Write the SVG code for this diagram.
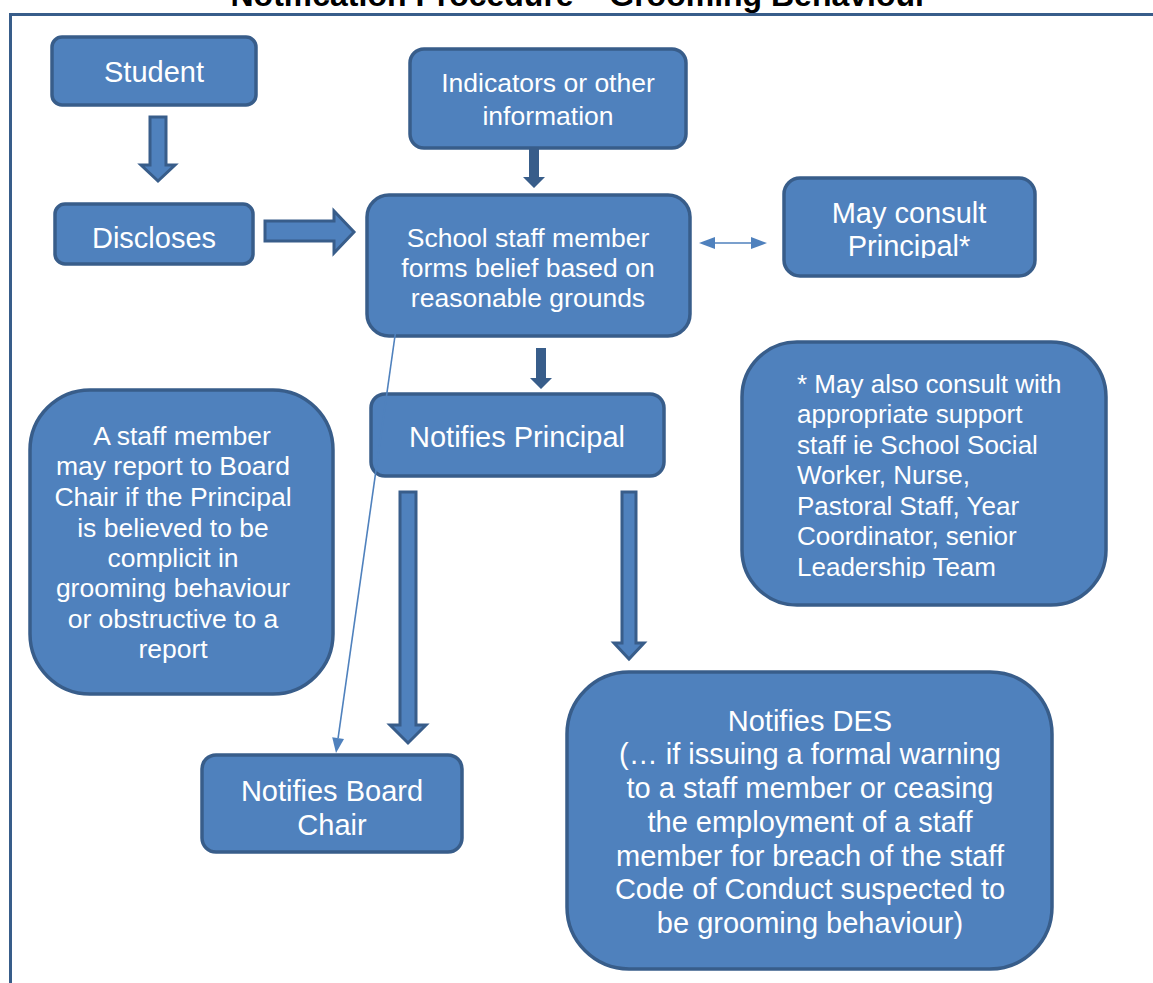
<svg xmlns="http://www.w3.org/2000/svg" width="1153" height="983" viewBox="0 0 1153 983">
<style>
.box{fill:#4F81BD;stroke:#385D8A;stroke-width:3.5}
.blk{fill:#4F81BD;stroke:#385D8A;stroke-width:3;stroke-linejoin:miter}
.solid{fill:#385D8A}
.thin{stroke:#4F81BD;stroke-width:1.6;fill:none}
.tip{fill:#4F81BD}
text{font-family:"Liberation Sans",Arial,sans-serif;fill:#FFFFFF}
.l{font-size:29px;text-anchor:middle}
.m{font-size:26.5px;text-anchor:middle}
.ml{font-size:26px}
.title{font-size:32px;font-weight:bold;fill:#000000;text-anchor:middle}
</style>
<defs>
<clipPath id="clipAlso"><rect x="742" y="342" width="366" height="236"/></clipPath>
<clipPath id="clipConsult"><rect x="784" y="178" width="252" height="80"/></clipPath>
</defs>
<rect x="0" y="0" width="1153" height="983" fill="#FFFFFF"/>
<text class="title" x="579" y="6">Notification Procedure – Grooming Behaviour</text>
<path d="M10.5 985 L10.5 14.5 L1155 14.5" fill="none" stroke="#385D8A" stroke-width="3"/>

<g id="student"><rect class="box" x="52" y="37" width="204" height="68" rx="10"/><text class="l" x="154" y="82">Student</text></g>
<g id="indicators"><rect class="box" x="410" y="49" width="276" height="99" rx="14"/><text class="m" x="548" y="92">Indicators or other</text><text class="m" x="548" y="125">information</text></g>
<g id="discloses"><rect class="box" x="55" y="204" width="198" height="60" rx="10"/><text class="l" x="154" y="248">Discloses</text></g>
<g id="staff-belief"><rect class="box" x="367" y="195" width="323" height="141" rx="22"/><text class="m" x="528" y="247">School staff member</text><text class="m" x="528" y="277">forms belief based on</text><text class="m" x="528" y="307">reasonable grounds</text></g>
<g id="consult"><rect class="box" x="784" y="178" width="251" height="98" rx="16"/><g clip-path="url(#clipConsult)"><text class="l" x="909" y="223">May consult</text><text class="l" x="909" y="256">Principal*</text></g></g>
<g id="notifies-principal"><rect class="box" x="371" y="394" width="293" height="82" rx="14"/><text class="l" x="517" y="447">Notifies Principal</text></g>
<g id="board-report-note"><rect class="box" x="30" y="390" width="303" height="304" rx="60"/>
<text class="m" x="182" y="445">A staff member</text>
<text class="m" x="173" y="475">may report to Board</text>
<text class="m" x="173" y="506">Chair if the Principal</text>
<text class="m" x="173" y="537">is believed to be</text>
<text class="m" x="173" y="567">complicit in</text>
<text class="m" x="173" y="597">grooming behaviour</text>
<text class="m" x="173" y="628">or obstructive to a</text>
<text class="m" x="173" y="658">report</text></g>
<g id="support-note"><rect class="box" x="742" y="342" width="364" height="263" rx="55"/><g clip-path="url(#clipAlso)">
<text class="ml" x="797" y="393">* May also consult with</text>
<text class="ml" x="797" y="423">appropriate support</text>
<text class="ml" x="797" y="454">staff ie School Social</text>
<text class="ml" x="797" y="484">Worker, Nurse,</text>
<text class="ml" x="797" y="515">Pastoral Staff, Year</text>
<text class="ml" x="797" y="545">Coordinator, senior</text>
<text class="ml" x="797" y="576">Leadership Team</text></g></g>
<g id="board-chair"><rect class="box" x="202" y="755" width="260" height="97" rx="14"/><text class="l" x="332" y="801">Notifies Board</text><text class="l" x="332" y="835">Chair</text></g>
<g id="des"><rect class="box" x="567" y="672" width="485" height="297" rx="62"/>
<text class="l" x="810" y="731">Notifies DES</text>
<text class="l" x="810" y="764">(… if issuing a formal warning</text>
<text class="l" x="810" y="798">to a staff member or ceasing</text>
<text class="l" x="810" y="832">the employment of a staff</text>
<text class="l" x="810" y="866">member for breach of the staff</text>
<text class="l" x="810" y="899">Code of Conduct suspected to</text>
<text class="l" x="810" y="933">be grooming behaviour)</text></g>

<g id="connectors">
<polygon class="blk" points="150,117 166,117 166,165 175,165 158,181 141,165 150,165"/>
<polygon class="blk" points="265,221 334,221 334,211 354,232 334,253 334,241 265,241"/>
<polygon class="solid" points="529,148 539,148 539,177 545,177 534,188 523,177 529,177"/>
<polygon class="solid" points="536,348 546,348 546,378 552,378 541,389 530,378 536,378"/>
<polygon class="blk" points="400,492 416,492 416,725 426,725 408,743 390,725 400,725"/>
<polygon class="blk" points="622,492 636,492 636,643 644,643 629,659 614,643 622,643"/>
<line class="thin" x1="713" y1="243" x2="753" y2="243"/>
<polygon class="tip" points="699,243 715,237 715,249"/>
<polygon class="tip" points="767,243 751,237 751,249"/>
<line class="thin" x1="395.4" y1="333" x2="338.1" y2="738.2"/>
<polygon class="tip" points="336,753 344,739 332.2,737.3"/>
</g>
</svg>
